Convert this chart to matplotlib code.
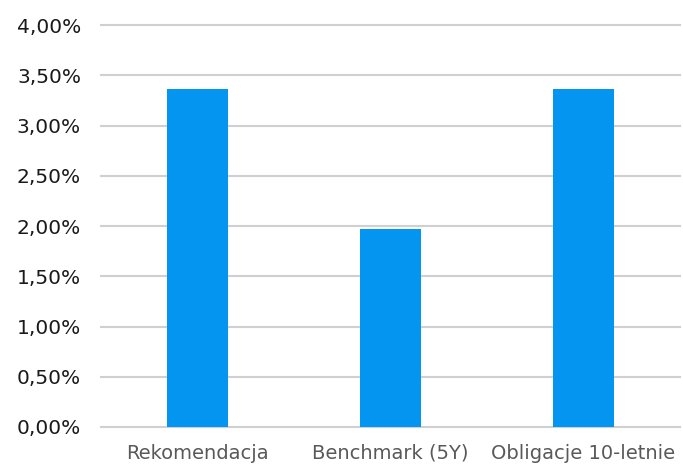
import matplotlib
matplotlib.use("Agg")
import matplotlib.pyplot as plt
from matplotlib.ticker import FuncFormatter, MultipleLocator

plt.rcParams['font.family'] = ['DejaVu Sans']

categories = ["Rekomendacja", "Benchmark (5Y)", "Obligacje 10-letnie"]
values = [0.0336, 0.0197, 0.0336]

fig = plt.figure(figsize=(6.83, 4.67), dpi=100)
ax = fig.add_axes([101/683, 40/467, 579/683, 402/467])

ax.bar(range(len(categories)), values, width=0.32, color="#0395EF", zorder=3)
ax.set_xlim(-0.5, 2.5)
ax.set_ylim(0, 0.04)
ax.yaxis.set_major_locator(MultipleLocator(0.005))
ax.yaxis.set_major_formatter(FuncFormatter(lambda v, p: f"{v*100:.2f}%".replace(".", ",")))
ax.grid(axis="y", color="#d0d0d0", linewidth=1.5, zorder=0)
for gl in ax.get_ygridlines():
    gl.set_clip_on(False)
ax.set_axisbelow(True)
for s in ax.spines.values():
    s.set_visible(False)
ax.tick_params(axis="both", length=0)
ax.tick_params(axis="y", pad=14.4, labelsize=14.5, labelcolor="#1a1a1a")
ax.tick_params(axis="x", pad=12, labelsize=14, labelcolor="#595959")
ax.set_xticks(range(len(categories)))
ax.set_xticklabels(categories)

fig.savefig("out.png", dpi=100)
